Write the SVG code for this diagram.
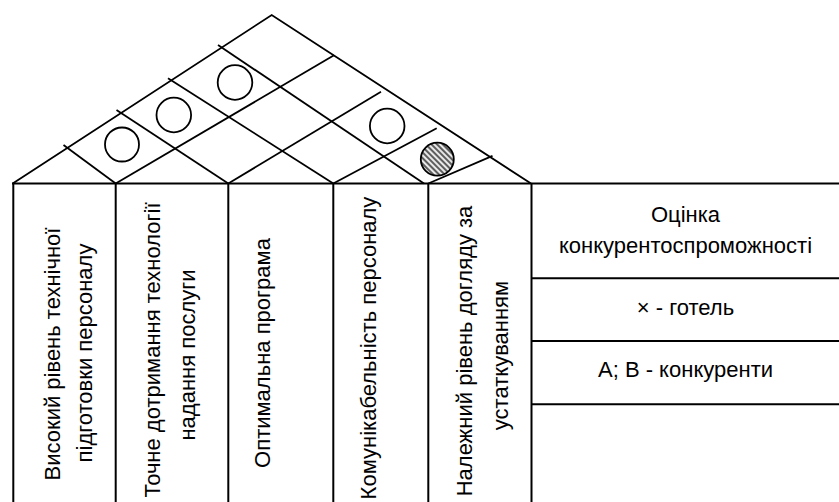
<svg xmlns="http://www.w3.org/2000/svg" width="839" height="502" viewBox="0 0 839 502">
<style>
.ln{stroke:#000;stroke-width:1.8;fill:none;stroke-linecap:butt}
.frame{stroke:#000;stroke-width:2;fill:none}
.c{stroke:#000;stroke-width:1.8;fill:#fff}
.t{font-family:"Liberation Sans",Arial,sans-serif;font-size:22px;fill:#000;text-anchor:middle}
</style>
<defs>
<pattern id="hatch" width="4" height="4" patternUnits="userSpaceOnUse" patternTransform="rotate(45)">
<rect width="4" height="4" fill="#e8e8e8"/>
<line x1="0" y1="1" x2="4" y2="1" stroke="#3a3a3a" stroke-width="1.6"/>
</pattern>
</defs>
<rect width="839" height="502" fill="#fff"/>
<g id="roof">
<polyline class="ln" points="12.7,183.5 271.7,15 531,183.5"/>
<line class="ln" x1="63.5" y1="145" x2="115.7" y2="183.5"/>
<line class="ln" x1="116.5" y1="110" x2="228.3" y2="183.5"/>
<line class="ln" x1="168" y1="78.3" x2="333.3" y2="183.5"/>
<line class="ln" x1="218" y1="45" x2="424" y2="183.5"/>
<line class="ln" x1="115.7" y1="183.5" x2="334" y2="55.3"/>
<line class="ln" x1="228.3" y1="183.5" x2="381" y2="91.7"/>
<line class="ln" x1="333.3" y1="183.5" x2="436.7" y2="128.3"/>
<line class="ln" x1="428.3" y1="183.5" x2="492.5" y2="155.8"/>
</g>
<g id="correlations">
<circle class="c" cx="122" cy="144.5" r="17"/>
<circle class="c" cx="173.8" cy="115" r="17.3"/>
<circle class="c" cx="235" cy="82.5" r="17.3"/>
<circle class="c" cx="387.2" cy="126" r="17.3"/>
<circle class="c" cx="437.3" cy="159.2" r="16.5" style="fill:url(#hatch)"/>
</g>
<g id="frame">
<line class="frame" x1="12" y1="183.5" x2="839" y2="183.5"/>
<line class="frame" x1="13.3" y1="183.5" x2="13.3" y2="502"/>
<line class="frame" x1="115.7" y1="183.5" x2="115.7" y2="502"/>
<line class="frame" x1="228.3" y1="183.5" x2="228.3" y2="502"/>
<line class="frame" x1="333.3" y1="183.5" x2="333.3" y2="502"/>
<line class="frame" x1="428.3" y1="183.5" x2="428.3" y2="502"/>
<line class="frame" x1="531.5" y1="183.5" x2="531.5" y2="502"/>
<line class="frame" x1="531.5" y1="278.3" x2="839" y2="278.3"/>
<line class="frame" x1="531.5" y1="341" x2="839" y2="341"/>
<line class="frame" x1="531.5" y1="404.3" x2="839" y2="404.3"/>
</g>
<g id="col1">
<text class="t" transform="translate(60,354) rotate(-90)">Високий рівень технічної</text>
<text class="t" transform="translate(92,353) rotate(-90)">підготовки персоналу</text>
</g>
<g id="col2">
<text class="t" transform="translate(160,350) rotate(-90)">Точне дотримання технології</text>
<text class="t" transform="translate(195,355) rotate(-90)">надання послуги</text>
</g>
<g id="col3">
<text class="t" transform="translate(270,353) rotate(-90)">Оптимальна програма</text>
</g>
<g id="col4">
<text class="t" transform="translate(375.5,348) rotate(-90)">Комунікабельність персоналу</text>
</g>
<g id="col5">
<text class="t" transform="translate(472,351) rotate(-90)">Належний рівень догляду за</text>
<text class="t" transform="translate(508,355.5) rotate(-90)">устаткуванням</text>
</g>
<g id="legend">
<text class="t" x="685.5" y="222">Оцінка</text>
<text class="t" x="685.5" y="253">конкурентоспроможності</text>
<text class="t" x="685.5" y="315">× - готель</text>
<text class="t" x="685.5" y="377">A; B - конкуренти</text>
</g>
</svg>
